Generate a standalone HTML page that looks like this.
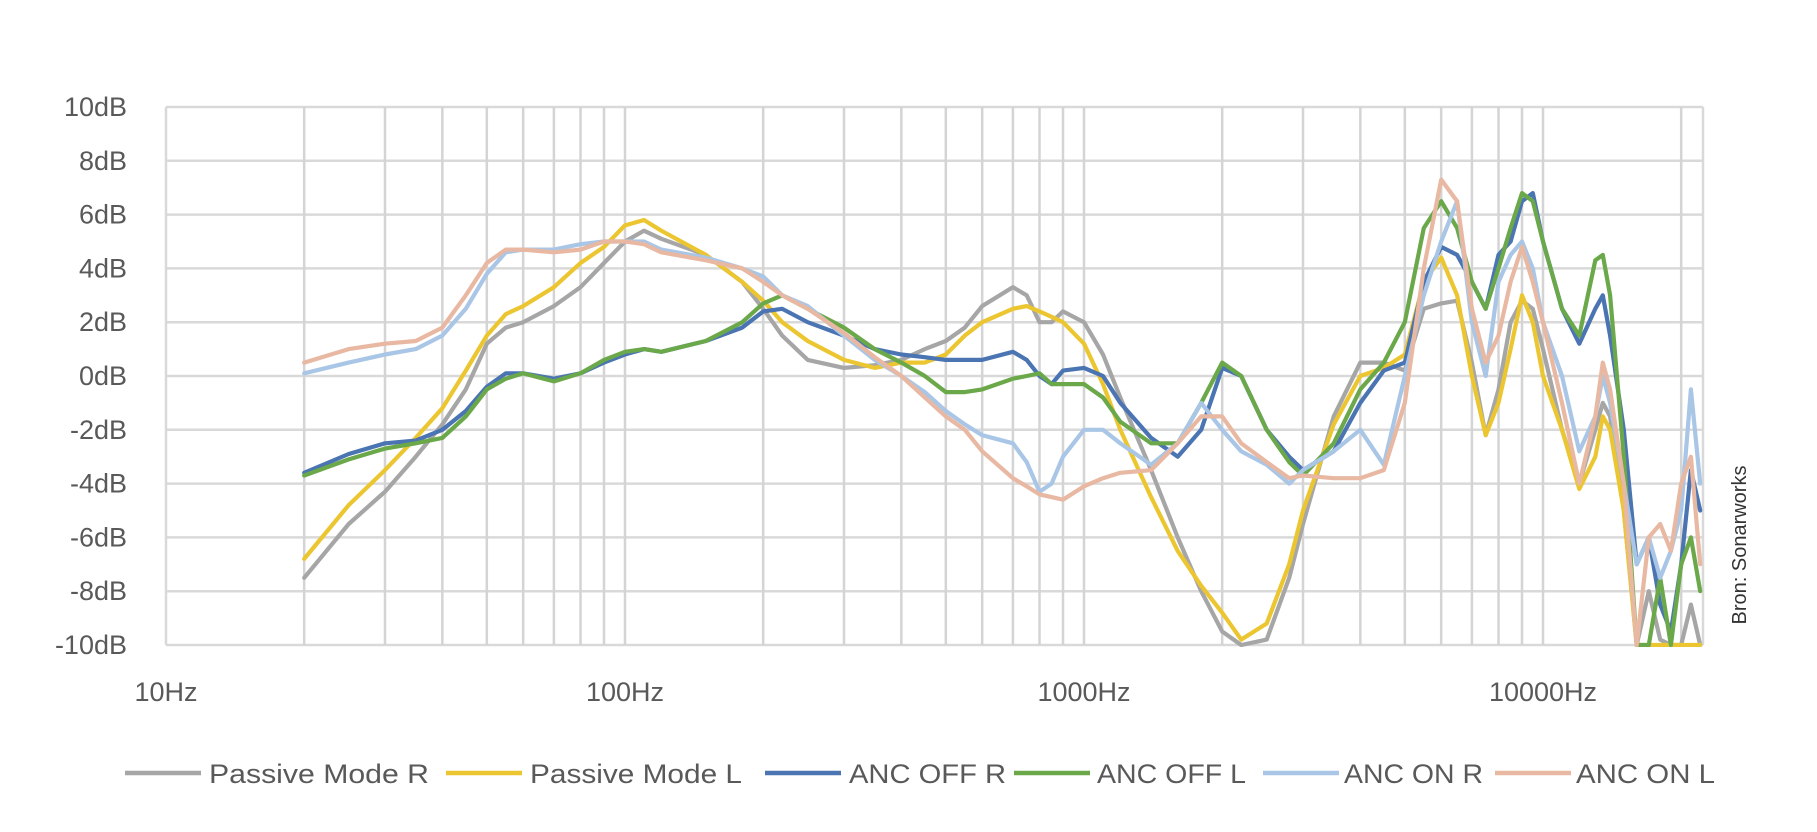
<!DOCTYPE html>
<html><head><meta charset="utf-8"><style>
html,body{margin:0;padding:0;background:#fff;}
svg{display:block;font-family:"Liberation Sans",sans-serif;}
</style></head><body>
<svg id="chart" width="1817" height="832" viewBox="0 0 1817 832" xmlns="http://www.w3.org/2000/svg">
<defs><clipPath id="clip"><rect x="166" y="104" width="1537" height="543"/></clipPath></defs>
<g id="grid"></g>
<g id="axes"></g>
<g id="series" clip-path="url(#clip)"></g>
<g id="legend"></g>
<text x="0" y="0" transform="translate(1746,545) rotate(-90)" text-anchor="middle" font-size="20" fill="#333">Bron: Sonarworks</text>
</svg>
<script>
const freqs=[20,25,30,35,40,45,50,55,60,70,80,90,100,110,120,150,180,200,220,250,300,350,400,450,500,550,600,700,750,800,850,900,1000,1100,1200,1400,1600,1800,2000,2200,2500,2800,3000,3500,4000,4500,5000,5500,6000,6500,7000,7500,8000,8500,9000,9500,10000,11000,12000,13000,13500,14000,15000,16000,17000,18000,19000,20000,21000,22000];
const passiveR=[-7.5,-5.5,-4.3,-3,-1.8,-0.5,1.2,1.8,2.0,2.6,3.3,4.2,5.0,5.4,5.1,4.5,3.5,2.5,1.5,0.6,0.3,0.4,0.6,1.0,1.3,1.8,2.6,3.3,3.0,2.0,2.0,2.4,2.0,0.8,-0.8,-3.5,-6,-8,-9.5,-10,-9.8,-7.5,-5.5,-1.5,0.5,0.5,0.2,2.5,2.7,2.8,0.5,-2.2,-0.5,2.0,2.8,2.5,1,-2,-4,-2,-1,-1.5,-5,-10,-8,-9.8,-10,-10,-8.5,-10];
const passiveL=[-6.8,-4.8,-3.5,-2.3,-1.2,0.2,1.5,2.3,2.6,3.3,4.2,4.8,5.6,5.8,5.4,4.5,3.5,2.8,2.0,1.3,0.6,0.3,0.5,0.5,0.8,1.5,2.0,2.5,2.6,2.4,2.2,2.0,1.2,-0.3,-2,-4.5,-6.5,-7.8,-8.8,-9.8,-9.2,-7,-5,-1.8,0,0.3,0.8,3.5,4.4,3,0,-2.2,-1,1,3,2,0,-2,-4.2,-3,-1.5,-2,-5,-10,-10,-10,-10,-10,-10,-10];
const ancOffR=[-3.6,-2.9,-2.5,-2.4,-2.0,-1.3,-0.4,0.1,0.1,-0.1,0.1,0.5,0.8,1.0,0.9,1.3,1.8,2.4,2.5,2.0,1.5,1.0,0.8,0.7,0.6,0.6,0.6,0.9,0.6,0,-0.3,0.2,0.3,0,-1,-2.3,-3.0,-2,0.3,0,-2,-3,-3.5,-2.8,-1,0.2,0.5,3.5,4.8,4.5,3.5,2.5,4.5,5,6.5,6.8,5,2.5,1.2,2.5,3,1.5,-2,-7,-6,-8.5,-9.5,-7,-3.5,-5];
const ancOffL=[-3.7,-3.1,-2.7,-2.5,-2.3,-1.5,-0.5,-0.1,0.1,-0.2,0.1,0.6,0.9,1.0,0.9,1.3,2.0,2.7,3.0,2.5,1.8,1.0,0.5,0.0,-0.6,-0.6,-0.5,-0.1,0.0,0.1,-0.3,-0.3,-0.3,-0.8,-1.7,-2.5,-2.5,-1,0.5,0,-2,-3.2,-3.7,-2.5,-0.5,0.5,2,5.5,6.5,5.5,3.5,2.5,4,5.5,6.8,6.5,5,2.5,1.5,4.3,4.5,3,-3,-10,-10,-7.5,-10,-7,-6,-8];
const ancOnR=[0.1,0.5,0.8,1.0,1.5,2.5,3.8,4.6,4.7,4.7,4.9,5.0,5.0,5.0,4.7,4.4,4.0,3.7,3.0,2.6,1.5,0.6,0,-0.6,-1.3,-1.8,-2.2,-2.5,-3.2,-4.3,-4.0,-3,-2,-2,-2.5,-3.3,-2.5,-1,-2,-2.8,-3.3,-4,-3.5,-2.8,-2,-3.3,0,3,5,6.5,2,0,3.5,4.5,5,4,2,0,-2.8,-1.5,0,-1,-4,-7,-6,-7.5,-6.5,-5,-0.5,-4];
const ancOnL=[0.5,1.0,1.2,1.3,1.8,3.0,4.2,4.7,4.7,4.6,4.7,5.0,5.0,4.9,4.6,4.3,4.0,3.5,3.0,2.5,1.6,0.7,0,-0.8,-1.5,-2,-2.8,-3.8,-4.1,-4.4,-4.5,-4.6,-4.1,-3.8,-3.6,-3.5,-2.5,-1.5,-1.5,-2.5,-3.2,-3.8,-3.7,-3.8,-3.8,-3.5,-1,4,7.3,6.5,2.5,0.5,1.5,3.5,4.8,3.5,2,-1,-4,-1.5,0.5,-0.5,-4,-10,-6,-5.5,-6.5,-4,-3,-7];
const yTicks=[10,8,6,4,2,0,-2,-4,-6,-8,-10];
const xTickFreqs=[10,100,1000,10000];
const seriesNames=["Passive Mode R","Passive Mode L","ANC OFF R","ANC OFF L","ANC ON R","ANC ON L"];

const colors=["#a6a6a6","#ecc631","#4a74b2","#6aa84a","#a9c6e6","#e8b8a2"];
const seriesData=[passiveR,passiveL,ancOffR,ancOffL,ancOnR,ancOnL];
const X0=166,DEC=459,Y0=107,Y1=645;
const xs=f=>X0+DEC*(Math.log10(f)-1);
const ys=v=>Y0+(10-v)*(Y1-Y0)/20;
const NS="http://www.w3.org/2000/svg";
function mk(tag,attrs,parent){const e=document.createElementNS(NS,tag);for(const k in attrs)e.setAttribute(k,attrs[k]);parent.appendChild(e);return e;}
const grid=document.getElementById('grid'),axes=document.getElementById('axes'),ser=document.getElementById('series'),leg=document.getElementById('legend');
yTicks.forEach(v=>{
  const l=mk('line',{x1:X0,x2:1703,y1:ys(v),y2:ys(v),stroke:'#d9d9d9','stroke-width':2.5},grid);
  
  
  const t=mk('text',{x:127,y:ys(v)+9,'text-anchor':'end','font-size':27,fill:'#595959'},axes);
  t.textContent=v+'dB';
  
  
});
const vlines=[];
for(let d=10;d<=10000;d*=10)for(let m=1;m<=9;m++){const f=d*m;if(f>10&&f<=20000)vlines.push(f);}
vlines.forEach(f=>{
  const l=mk('line',{x1:xs(f),x2:xs(f),y1:Y0,y2:Y1,stroke:'#d4d4d4','stroke-width':2.5},grid);
  
  
});
[X0,1703].forEach(x=>{
  const l=mk('line',{x1:x,x2:x,y1:Y0,y2:Y1,stroke:'#d9d9d9','stroke-width':2.5},grid);
  
  
});
xTickFreqs.forEach(f=>{
  const t=mk('text',{x:xs(f),y:701,'text-anchor':'middle','font-size':27,fill:'#595959'},axes);
  t.textContent=f+'Hz';
  
  
});
seriesData.forEach((arr,i)=>{
  const pts=freqs.map((f,j)=>xs(f).toFixed(1)+','+ys(arr[j]).toFixed(1)).join(' ');
  const p=mk('polyline',{points:pts,fill:'none',stroke:colors[i],'stroke-width':4.2,'stroke-linejoin':'round','stroke-linecap':'round'},ser);
  
  
});
const legX=[[125,209,220],[446,530,212],[765,849,157],[1014,1097,149],[1263,1344,139],[1495,1576,139]];
seriesNames.forEach((n,i)=>{
  const g=mk('g',{},leg);
  
  
  mk('line',{x1:legX[i][0],x2:legX[i][0]+76,y1:773,y2:773,stroke:colors[i],'stroke-width':4.5},g);
  const t=mk('text',{x:legX[i][1],y:783,'font-size':27,fill:'#595959',textLength:legX[i][2],lengthAdjust:'spacingAndGlyphs'},g);
  t.textContent=n;
});
</script>
</body></html>
